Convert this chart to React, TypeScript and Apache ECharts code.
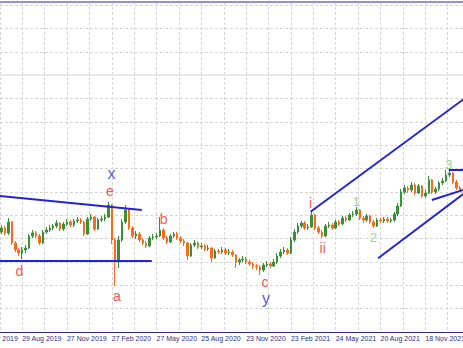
import React, { useEffect, useRef } from "react";
import * as echarts from "echarts";

// x-axis tick labels (one every 13 bars, first at bar 6)
const TICK_LABELS = [
  "30 May 2019", "29 Aug 2019", "27 Nov 2019", "27 Feb 2020", "27 May 2020",
  "25 Aug 2020", "23 Nov 2020", "23 Feb 2021", "24 May 2021", "20 Aug 2021", "18 Nov 2021",
];
const FIRST_TICK = 6;
const TICK_STEP = 13;
const CATEGORY_COUNT = 148;
const FIRST_BAR = 12;

// candles (bars 12..146), price in chart units
const OPEN = [97,100,104,99,110,89,82,79,82,84,96,99,96,89,100,102,104,106,109,103,108,110,107,111,112,110,98,113,115,103,112,113,115,127,92,70,92,110,122,104,96,98,92,89,86,94,95,96,102,94,90,96,98,94,91,89,76,87,89,85,86,83,84,74,81,80,82,79,80,77,70,72,73,70,68,66,65,62,67,68,66,70,76,80,82,79,92,100,106,109,104,105,117,104,100,96,106,107,104,110,108,114,112,117,118,122,114,112,116,110,106,112,111,113,111,112,118,126,140,144,142,147,139,146,136,139,152,140,143,149,151,157,159,150,144];
const CLOSE = [100,104,99,110,89,82,79,82,84,96,99,96,89,100,102,104,106,109,103,108,110,107,111,112,110,98,113,115,103,112,113,115,127,92,70,92,110,122,104,96,98,92,89,86,94,95,96,102,94,90,96,98,94,91,89,76,87,89,85,86,83,84,74,81,80,82,79,80,77,70,72,73,70,68,66,65,62,67,68,66,70,76,80,82,79,92,100,106,109,104,105,117,104,100,96,106,107,104,110,108,114,112,117,118,122,114,112,116,110,106,112,111,113,111,112,118,126,140,144,142,147,139,146,136,139,152,140,143,149,151,157,159,150,144,142];
const LOW = [95,98,97,97,87,80,76,73,79,83,94,94,87,88,98,100,102,104,101,101,106,105,105,109,108,96,97,111,101,102,110,111,114,88,46,64,90,108,102,94,93,90,87,84,85,92,93,95,92,88,89,94,92,89,86,72,75,85,83,83,81,81,70,73,78,78,77,77,75,64,67,70,68,66,63,62,57,60,65,64,65,68,74,78,77,78,90,98,104,102,102,104,102,98,94,95,104,102,103,106,107,110,111,115,116,112,109,110,108,104,105,109,109,109,109,110,116,125,138,139,140,137,138,134,134,138,138,138,141,147,150,155,148,142,140];
const HIGH = [103,107,106,114,111,91,84,85,87,98,102,101,98,102,105,107,108,112,110,110,113,112,113,115,114,111,115,118,116,114,116,118,130,128,94,96,113,127,123,106,101,100,94,91,96,98,99,115,104,96,98,100,100,96,93,90,89,92,91,89,88,87,85,83,83,85,84,83,82,78,74,76,75,72,70,68,67,69,71,70,73,79,83,85,84,95,103,109,111,111,108,120,118,106,102,108,110,109,112,112,116,116,119,121,125,123,116,118,117,112,114,114,115,115,114,120,129,143,147,146,150,149,148,147,142,156,153,145,151,154,162,162,160,152,146];

// price levels
const GREY_LEVEL = 257;
const TOP_LEVEL = 330.5;

// trend lines: [bar position, price]
const TRIANGLE_UPPER = [[12, 136.3], [54.2, 122]];
const TRIANGLE_LOWER = [[12, 71], [57.1, 71]];
const CHANNEL_UPPER = [[103.2, 120.3], [148, 233.8]];
const CHANNEL_LOWER = [[122.8, 73.7], [148, 139.2]];
const WEDGE_LOWER = [[138.4, 132], [148, 142.7]];
const WAVE3_LEVEL = [[143.3, 162], [148, 162]];

// wave labels
const RED_LABELS = [
  { text: "e", pos: [44.97, 141] },
  { text: "a", pos: [46.99, 36] },
  { text: "d", pos: [18.7, 61] },
  { text: "b", pos: [60.55, 113] },
  { text: "c", pos: [89.95, 50] },
  { text: "i", pos: [103.2, 129] },
  { text: "ii", pos: [106.7, 84] },
];
const BLUE_LABELS = [
  { text: "x", pos: [45.4, 159] },
  { text: "y", pos: [90.25, 34] },
];
const GREEN_LABELS = [
  { text: "1", pos: [116.5, 131] },
  { text: "2", pos: [121.4, 95] },
  { text: "3", pos: [143.3, 168] },
];

const isTick = (i: number) => {
  const k = (i - FIRST_TICK) / TICK_STEP;
  return Number.isInteger(k) && k >= 0 && k < TICK_LABELS.length;
};

const categories = Array.from({ length: CATEGORY_COUNT }, (_, i) =>
  isTick(i) ? TICK_LABELS[(i - FIRST_TICK) / TICK_STEP] : "bar " + i
);

const candleData = Array.from({ length: CATEGORY_COUNT }, (_, i) => {
  const j = i - FIRST_BAR;
  if (j < 0 || j >= OPEN.length) return "-";
  return [OPEN[j], CLOSE[j], LOW[j], HIGH[j]];
});

const LINE_COLOR = "#2222d8";
const AXIS_COLOR = "#2e2e86";

function lineSeries(data: number[][]) {
  return {
    type: "line",
    xAxisIndex: 1,
    data,
    symbol: "none",
    silent: true,
    lineStyle: { color: LINE_COLOR, width: 2 },
    z: 5,
  };
}

function labelSeries(items: { text: string; pos: number[] }[], color: string, size: number) {
  return {
    type: "scatter",
    xAxisIndex: 1,
    symbolSize: 0,
    silent: true,
    z: 6,
    data: items.map((it) => ({ value: it.pos, name: it.text })),
    label: {
      show: true,
      position: "inside",
      formatter: (p: any) => p.name,
      color,
      fontSize: size,
      fontFamily: "Liberation Sans",
    },
  };
}

export default function App() {
  const ref = useRef<HTMLDivElement>(null);
  useEffect(() => {
    document.body.style.margin = "0";
    if (!ref.current) return;
    const chart = echarts.init(ref.current, undefined, { renderer: "svg" });
    chart.setOption({
      animation: false,
      backgroundColor: "#ffffff",
      grid: { left: 0, right: 0, top: 0, bottom: 16 },
      xAxis: [
        {
          type: "category",
          data: categories,
          boundaryGap: true,
          axisLine: { lineStyle: { color: AXIS_COLOR, width: 1 } },
          axisTick: {
            alignWithLabel: true,
            interval: (i: number) => isTick(i),
            length: 4,
            lineStyle: { color: AXIS_COLOR },
          },
          axisLabel: {
            interval: (i: number) => isTick(i),
            align: "left",
            color: AXIS_COLOR,
            fontSize: 7,
            fontFamily: "Liberation Sans",
            margin: 3,
          },
          splitLine: { show: false },
        },
        {
          type: "value",
          min: 0,
          max: CATEGORY_COUNT,
          interval: 6.5,
          position: "top",
          axisLine: { show: false },
          axisTick: { show: false },
          axisLabel: { show: false },
          splitLine: { show: true, lineStyle: { color: "#d6d6d6", type: [3, 2], width: 1 } },
        },
      ],
      yAxis: {
        type: "value",
        min: 0,
        max: 350,
        interval: 70 / 3,
        axisLine: { show: false },
        axisTick: { show: false },
        axisLabel: { show: false },
        splitLine: { show: true, lineStyle: { color: "#d6d6d6", type: [3, 2], width: 1 } },
      },
      series: [
        {
          type: "candlestick",
          data: candleData,
          barWidth: 2,
          itemStyle: {
            color: "#3a9038",
            color0: "#ff6a1a",
            borderColor: "#3a9038",
            borderColor0: "#ff6a1a",
            borderWidth: 1,
          },
          markLine: {
            silent: true,
            symbol: "none",
            label: { show: false },
            data: [
              { yAxis: GREY_LEVEL, lineStyle: { color: "#e8e8e8", width: 2, type: "solid" } },
              { yAxis: TOP_LEVEL, lineStyle: { color: "#9090dc", width: 2, type: "solid" } },
            ],
          },
          z: 3,
        },
        lineSeries(TRIANGLE_UPPER),
        lineSeries(TRIANGLE_LOWER),
        lineSeries(CHANNEL_UPPER),
        lineSeries(CHANNEL_LOWER),
        lineSeries(WEDGE_LOWER),
        lineSeries(WAVE3_LEVEL),
        labelSeries(RED_LABELS, "#ff2424", 14),
        labelSeries(BLUE_LABELS, "#2a2ae8", 16),
        labelSeries(GREEN_LABELS, "#74cc74", 13),
      ],
    });
    return () => chart.dispose();
  }, []);
  return (
    <div style={{ position: "relative", width: 463, height: 348, overflow: "hidden" }}>
      <div
        ref={ref}
        style={{ position: "absolute", left: -45, top: -18, width: 513, height: 366 }}
      />
    </div>
  );
}
